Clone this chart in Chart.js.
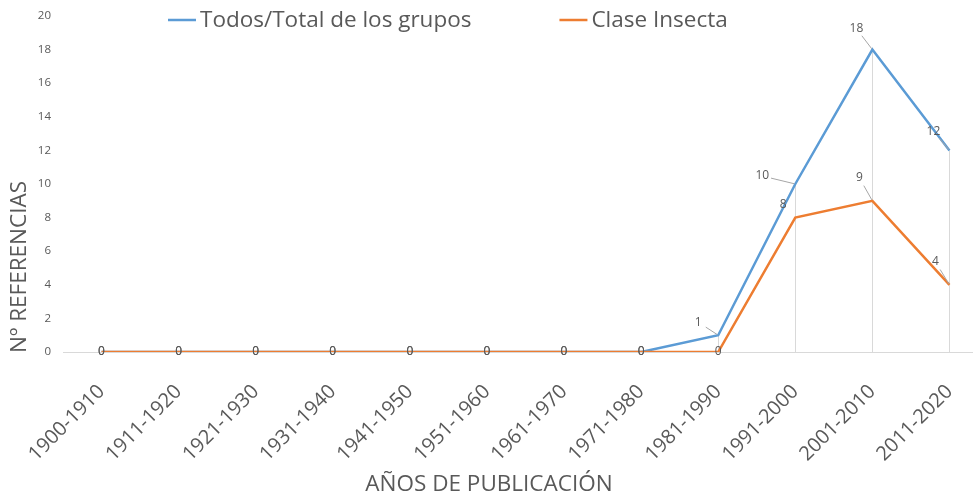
<!DOCTYPE html>
<html>
<head>
<meta charset="utf-8">
<script src="https://cdn.jsdelivr.net/npm/chart.js@4.4.1/dist/chart.umd.min.js"></script>
<style>
  html, body { margin: 0; padding: 0; background: #fff; overflow: hidden; }
  #wrap { width: 1000px; height: 500px; }
</style>
</head>
<body>
<div id="wrap"><canvas id="chart" width="1000" height="500"></canvas></div>
<script>
// data
const decades = ['1900-1910', '1911-1920', '1921-1930', '1931-1940', '1941-1950', '1951-1960',
  '1961-1970', '1971-1980', '1981-1990', '1991-2000', '2001-2010', '2011-2020'];
const totalGroups = [0, 0, 0, 0, 0, 0, 0, 0, 1, 10, 18, 12];
const insecta = [0, 0, 0, 0, 0, 0, 0, 0, 0, 8, 9, 4];
const yTicks = { min: 0, max: 20, step: 2 };

const GREY = '#595959';
const BLUE = '#5B9BD5';
const ORANGE = '#ED7D31';
const FONT = '"Open Sans", sans-serif';

// label nudges (px) for the moved data labels, keyed by dataset then index
const labelNudge = [
  { 8: [-20, -13, true], 9: [-33, -8, true], 10: [-16, -21, true], 11: [-16, -19, true] },
  { 9: [-12, -13, false], 10: [-13, -23, true], 11: [-14, -23, true] }
];

// excel style drop lines from the highest point down to the axis
const dropLines = {
  id: 'dropLines',
  beforeDatasetsDraw(chart) {
    const { ctx } = chart;
    const y = chart.scales.y;
    const x = chart.scales.x;
    ctx.save();
    ctx.strokeStyle = '#d9d9d9';
    ctx.lineWidth = 1;
    decades.forEach((d, i) => {
      const top = Math.max(totalGroups[i], insecta[i]);
      if (top <= 0) return;
      const px = Math.round(x.getPixelForValue(i)) + 0.5;
      ctx.beginPath();
      ctx.moveTo(px, y.getPixelForValue(0));
      ctx.lineTo(px, y.getPixelForValue(top));
      ctx.stroke();
    });
    ctx.restore();
  }
};

const dataLabels = {
  id: 'dataLabels',
  afterDatasetsDraw(chart) {
    const { ctx } = chart;
    ctx.save();
    ctx.font = '12px ' + FONT;
    ctx.textAlign = 'center';
    ctx.textBaseline = 'middle';
    chart.data.datasets.forEach((ds, di) => {
      const meta = chart.getDatasetMeta(di);
      meta.data.forEach((pt, i) => {
        const nudge = labelNudge[di][i];
        let lx = pt.x, ly = pt.y;
        if (nudge) {
          lx += nudge[0];
          ly += nudge[1];
          if (nudge[2]) {
            const dx = pt.x - lx, dy = pt.y - ly;
            const len = Math.hypot(dx, dy);
            ctx.strokeStyle = '#a6a6a6';
            ctx.lineWidth = 1;
            ctx.beginPath();
            ctx.moveTo(lx + dx / len * 9, ly + dy / len * 9);
            ctx.lineTo(pt.x - dx / len * 1, pt.y - dy / len * 1);
            ctx.stroke();
          }
        }
        ctx.fillStyle = GREY;
        ctx.fillText(String(ds.data[i]), lx, ly);
      });
    });
    ctx.restore();
  }
};

// legend across the top and the two axis titles, placed like the excel original
const chartText = {
  id: 'chartText',
  afterDraw(chart) {
    const { ctx } = chart;
    ctx.save();
    ctx.font = '22.5px ' + FONT;
    ctx.textBaseline = 'middle';
    ctx.textAlign = 'left';
    let x = 168;
    const y = 20;
    chart.data.datasets.forEach(ds => {
      ctx.strokeStyle = ds.borderColor;
      ctx.lineWidth = 2.5;
      ctx.beginPath();
      ctx.moveTo(x, y);
      ctx.lineTo(x + 28, y);
      ctx.stroke();
      ctx.fillStyle = GREY;
      ctx.fillText(ds.label, x + 32, y + 1);
      x += 32 + ctx.measureText(ds.label).width + 88;
    });

    ctx.fillStyle = GREY;
    ctx.textAlign = 'center';
    ctx.fillText('AÑOS DE PUBLICACIÓN', 489, 485);

    ctx.translate(20, 267);
    ctx.rotate(-Math.PI / 2);
    ctx.fillText('Nº REFERENCIAS', 0, 0);
    ctx.restore();
  }
};

new Chart(document.getElementById('chart'), {
  type: 'line',
  data: {
    labels: decades,
    datasets: [
      {
        label: 'Todos/Total de los grupos',
        data: totalGroups,
        borderColor: BLUE,
        borderWidth: 2.5,
        pointRadius: 0,
        tension: 0,
        order: 1
      },
      {
        label: 'Clase Insecta',
        data: insecta,
        borderColor: ORANGE,
        borderWidth: 2.5,
        pointRadius: 0,
        tension: 0,
        order: 0
      }
    ]
  },
  options: {
    responsive: false,
    animation: false,
    layout: { padding: { top: 16, right: 12, left: 0, bottom: 0 } },
    plugins: {
      legend: { display: false },
      tooltip: { enabled: false }
    },
    scales: {
      x: {
        offset: true,
        grid: { display: false },
        border: { display: true, color: '#d9d9d9', width: 1 },
        ticks: {
          color: GREY,
          font: { family: 'Open Sans', size: 20 },
          minRotation: 45,
          maxRotation: 45,
          padding: 20,
          autoSkip: false
        },
        afterFit(s) { s.height = 148; }
      },
      y: {
        min: yTicks.min,
        max: yTicks.max,
        grid: { display: false },
        border: { display: false },
        ticks: {
          stepSize: yTicks.step,
          color: GREY,
          font: { family: 'Open Sans', size: 11.5 },
          padding: 4
        },
        afterFit(s) { s.width = 63; }
      }
    }
  },
  plugins: [dropLines, dataLabels, chartText]
});
</script>
</body>
</html>
